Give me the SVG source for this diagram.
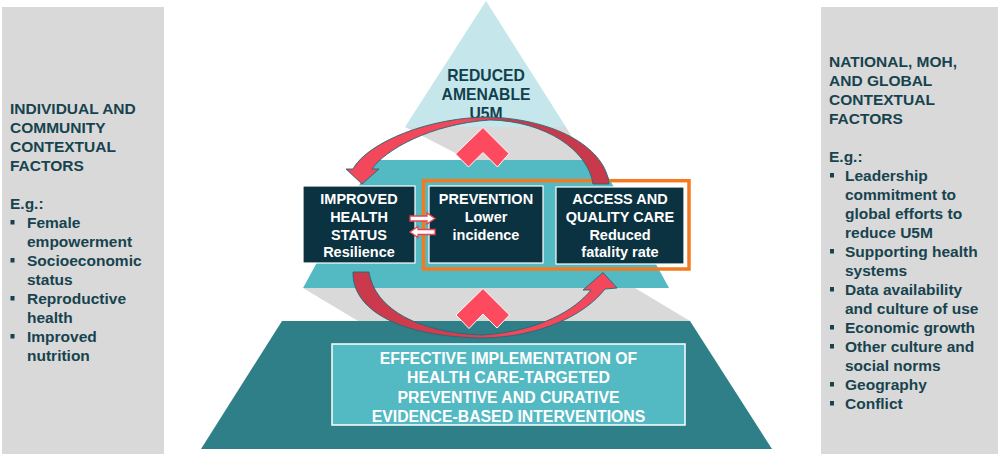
<svg xmlns="http://www.w3.org/2000/svg" width="1000" height="457" viewBox="0 0 1000 457">
<defs>
<style>
.t{font-family:"Liberation Sans",Arial,sans-serif;font-weight:bold}
.side{font-size:15.5px;fill:#17434f}
.box{font-size:14.5px;fill:#ffffff;text-anchor:middle}
.peak{font-size:15.7px;fill:#123f4d;text-anchor:middle}
.base{font-size:15.8px;fill:#ffffff;text-anchor:middle}
.dark{fill:#0b3240;stroke:#ffffff;stroke-width:1.2}
.chev{fill:#fd4a5f;stroke:#ffffff;stroke-width:1}
.bul{fill:#17434f}
.small{fill:#ffffff;stroke:#e8434f;stroke-width:1.3}
.arc{stroke:#1f6b75;stroke-width:0.9}
</style>
<linearGradient id="gTop" x1="346" y1="0" x2="609" y2="0" gradientUnits="userSpaceOnUse">
<stop offset="0" stop-color="#f3475c"/><stop offset="0.45" stop-color="#f3475c"/><stop offset="0.6" stop-color="#c8394b"/><stop offset="1" stop-color="#c8394b"/>
</linearGradient>
<linearGradient id="gBot" x1="353" y1="0" x2="617" y2="0" gradientUnits="userSpaceOnUse">
<stop offset="0" stop-color="#c8394b"/><stop offset="0.4" stop-color="#d63e50"/><stop offset="0.6" stop-color="#f3475c"/><stop offset="1" stop-color="#f3475c"/>
</linearGradient>
</defs>
<rect width="1000" height="457" fill="#ffffff"/>

<g id="left-panel">
<rect x="2" y="7" width="162" height="447" fill="#d9d9d9"/>
<text class="t side" x="10" y="114">INDIVIDUAL AND</text>
<text class="t side" x="10" y="133">COMMUNITY</text>
<text class="t side" x="10" y="152">CONTEXTUAL</text>
<text class="t side" x="10" y="171">FACTORS</text>
<text class="t side" x="10" y="209">E.g.:</text>
<rect class="bul" x="10.5" y="220" width="4" height="4.5"/>
<rect class="bul" x="10.5" y="258" width="4" height="4.5"/>
<rect class="bul" x="10.5" y="296" width="4" height="4.5"/>
<rect class="bul" x="10.5" y="334" width="4" height="4.5"/>
<text class="t side" x="27" y="228">Female</text>
<text class="t side" x="27" y="247">empowerment</text>
<text class="t side" x="27" y="266">Socioeconomic</text>
<text class="t side" x="27" y="285">status</text>
<text class="t side" x="27" y="304">Reproductive</text>
<text class="t side" x="27" y="323">health</text>
<text class="t side" x="27" y="342">Improved</text>
<text class="t side" x="27" y="361">nutrition</text>
</g>

<g id="right-panel">
<rect x="821" y="7" width="177" height="447" fill="#d9d9d9"/>
<text class="t side" x="829" y="67">NATIONAL, MOH,</text>
<text class="t side" x="829" y="86">AND GLOBAL</text>
<text class="t side" x="829" y="105">CONTEXTUAL</text>
<text class="t side" x="829" y="124">FACTORS</text>
<text class="t side" x="829" y="162">E.g.:</text>
<rect class="bul" x="830" y="173" width="4" height="4.5"/>
<rect class="bul" x="830" y="249" width="4" height="4.5"/>
<rect class="bul" x="830" y="287" width="4" height="4.5"/>
<rect class="bul" x="830" y="325" width="4" height="4.5"/>
<rect class="bul" x="830" y="344" width="4" height="4.5"/>
<rect class="bul" x="830" y="382" width="4" height="4.5"/>
<rect class="bul" x="830" y="401" width="4" height="4.5"/>
<text class="t side" x="845" y="181">Leadership</text>
<text class="t side" x="845" y="200">commitment to</text>
<text class="t side" x="845" y="219">global efforts to</text>
<text class="t side" x="845" y="238">reduce U5M</text>
<text class="t side" x="845" y="257">Supporting health</text>
<text class="t side" x="845" y="276">systems</text>
<text class="t side" x="845" y="295">Data availability</text>
<text class="t side" x="845" y="314">and culture of use</text>
<text class="t side" x="845" y="333">Economic growth</text>
<text class="t side" x="845" y="352">Other culture and</text>
<text class="t side" x="845" y="371">social norms</text>
<text class="t side" x="845" y="390">Geography</text>
<text class="t side" x="845" y="409">Conflict</text>
</g>

<g id="pyramid-base">
<polygon points="282,321 690,321 772,449 201,449" fill="#2e7f87"/>
<polygon points="303,288 635,288 690,321 358,321" fill="#d9d9d9"/>
</g>

<g id="pyramid-middle">
<polygon points="373,160 599,160 669,288 303,288" fill="#53b9c3"/>
<polygon points="405,127 566,127 586,160 469,160" fill="#d9d9d9"/>
</g>

<g id="pyramid-top">
<polygon points="486,1 566,127 405,127" fill="#c5e7eb"/>
<text class="t peak" x="486" y="80.6">REDUCED</text>
<text class="t peak" x="486" y="99.6">AMENABLE</text>
<text class="t peak" x="486" y="118.6">U5M</text>
</g>

<g id="interventions">
<rect x="332" y="344" width="353" height="81" fill="#53b9c3" stroke="#ffffff" stroke-width="1.5"/>
<text class="t base" x="508.5" y="364">EFFECTIVE IMPLEMENTATION OF</text>
<text class="t base" x="508.5" y="383">HEALTH CARE-TARGETED</text>
<text class="t base" x="508.5" y="402.5">PREVENTIVE AND CURATIVE</text>
<text class="t base" x="508.5" y="421.5">EVIDENCE-BASED INTERVENTIONS</text>
</g>

<g id="orange-frame">
<rect x="423.5" y="180.7" width="265.5" height="88.3" fill="none" stroke="#f47a20" stroke-width="3.5"/>
</g>

<g id="improved-health">
<rect class="dark" x="303" y="186" width="112" height="77"/>
<text class="t box" x="359" y="204">IMPROVED</text>
<text class="t box" x="359" y="222">HEALTH</text>
<text class="t box" x="359" y="239.5">STATUS</text>
<text class="t box" x="359" y="257">Resilience</text>
</g>

<g id="prevention">
<rect class="dark" x="429" y="186" width="114" height="77"/>
<text class="t box" x="486" y="204">PREVENTION</text>
<text class="t box" x="486" y="222">Lower</text>
<text class="t box" x="486" y="239.5">incidence</text>
</g>

<g id="access-care">
<rect class="dark" x="556" y="187" width="128" height="77"/>
<text class="t box" x="620" y="204">ACCESS AND</text>
<text class="t box" x="620" y="222">QUALITY CARE</text>
<text class="t box" x="620" y="239.5">Reduced</text>
<text class="t box" x="620" y="257">fatality rate</text>
</g>

<g id="connectors">
<polygon class="chev" points="483,127.5 509,153.5 497.5,167 483,152.5 468.5,167 455.5,154"/>
<polygon class="chev" points="483,288.5 509.5,315 497,328 483,314 469,328.5 456,315"/>
<path class="arc" fill="url(#gTop)" d="M609,184 C606,150 560,120 490,117 C430,117 368,142 353,169 L346,169 L362,184 L379,169 L372,169 C385,150 430,124 490,120 C545,121 588,150 593,184 Z"/>
<path class="arc" fill="url(#gBot)" d="M353,272 C352,310 400,337 483,338 C540,337 585,315 605,289 L617,288 L603,272.5 L583,290 L591,290 C575,310 540,331 483,335 C420,333 375,310 369,272 Z"/>
<path class="small" d="M410,216 L427,216 L427,213 L435,218.5 L427,224 L427,221 L410,221 Z"/>
<path class="small" d="M435,229.5 L418,229.5 L418,226.5 L410,232 L418,237.5 L418,234.5 L435,234.5 Z"/>
</g>
</svg>
